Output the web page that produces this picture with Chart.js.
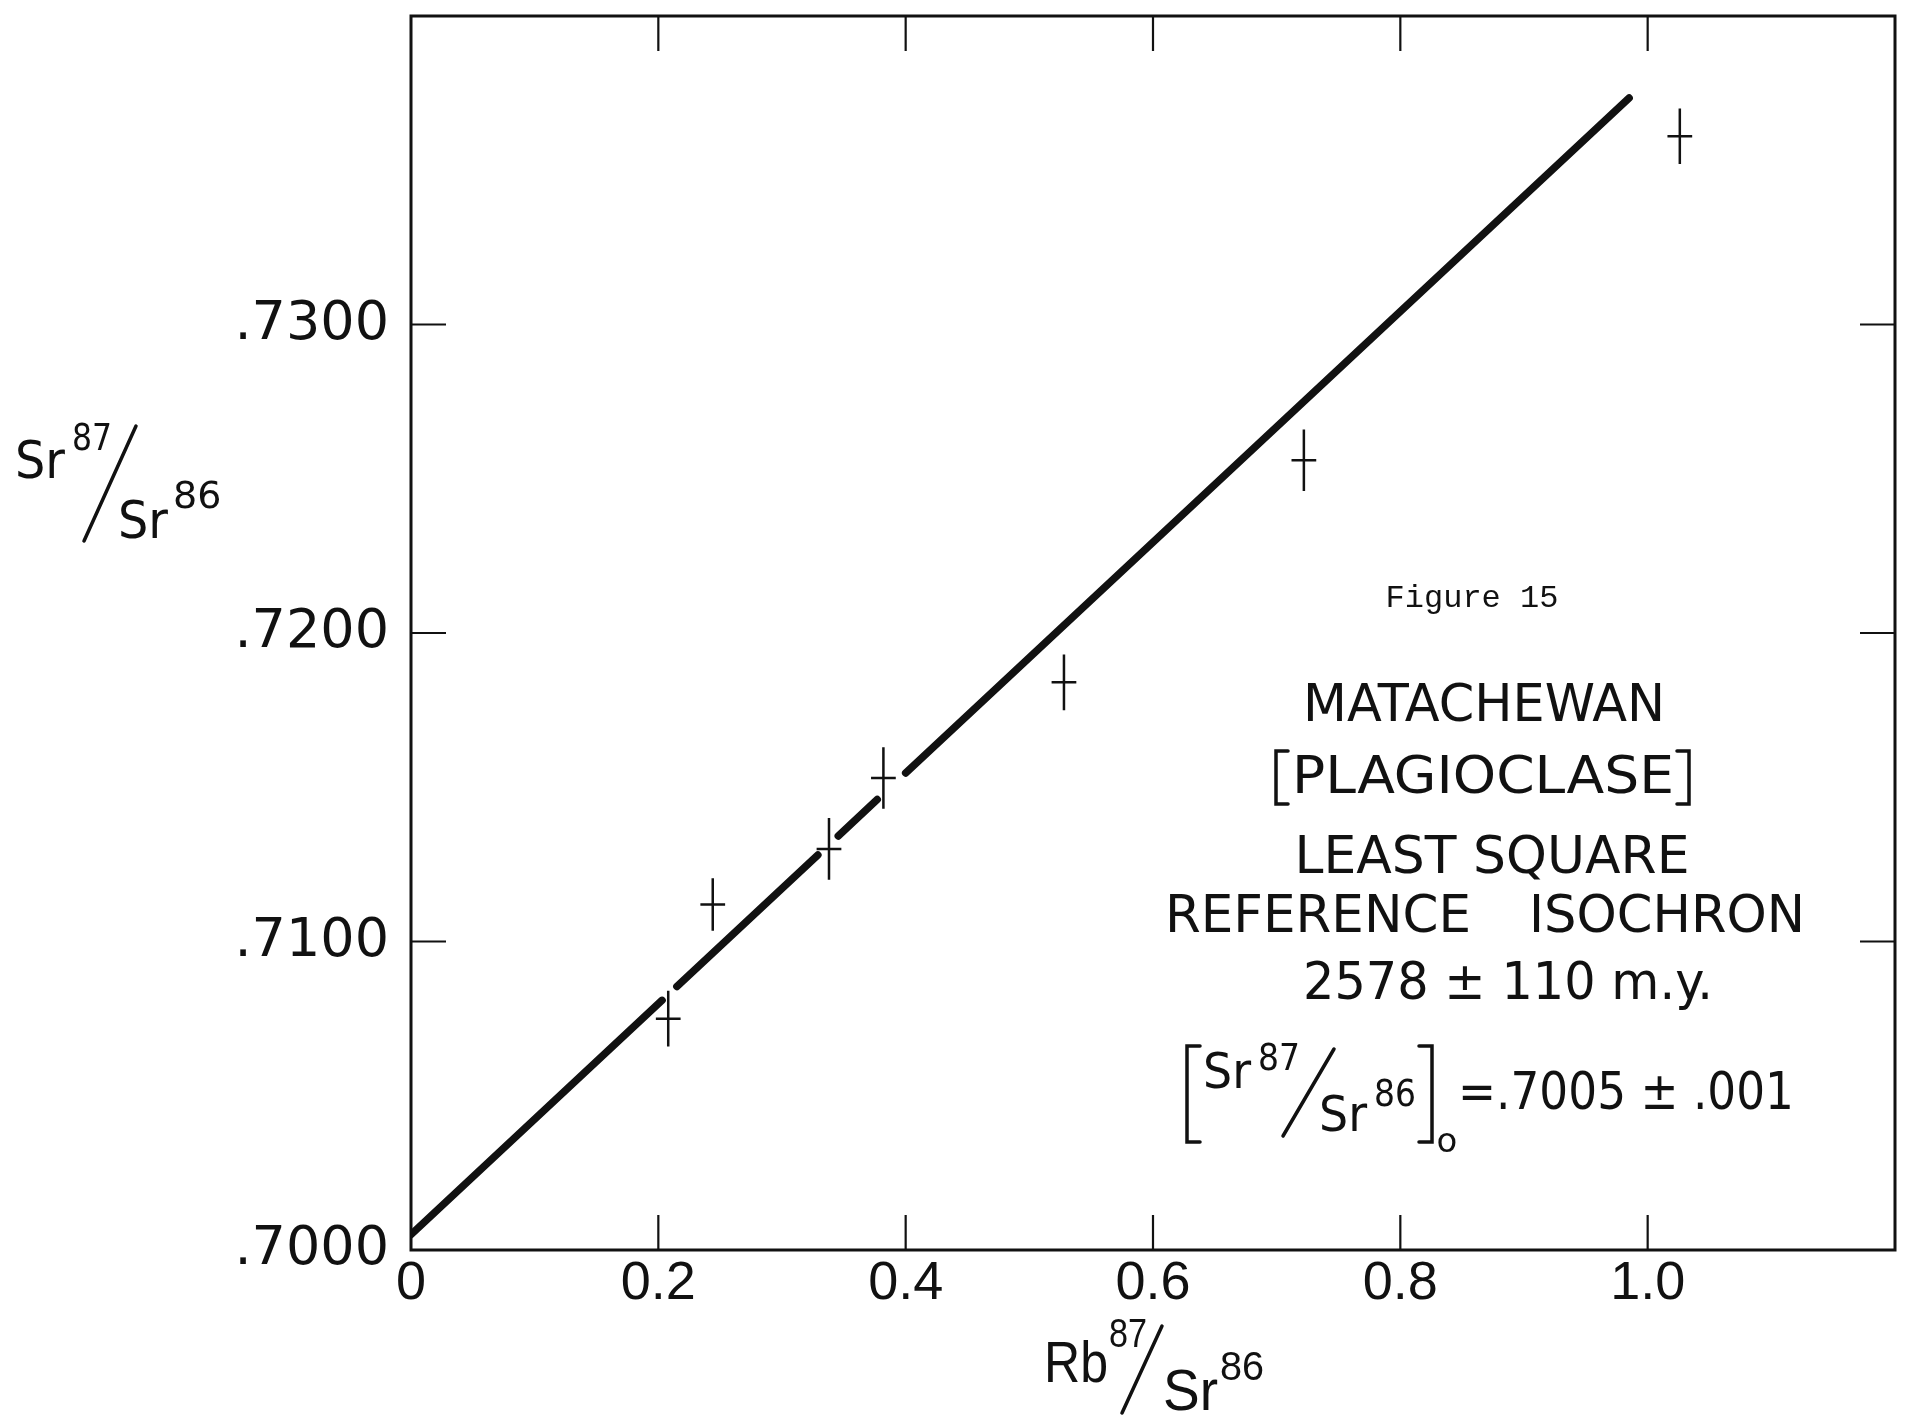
<!DOCTYPE html>
<html>
<head>
<meta charset="utf-8">
<title>Matachewan plagioclase isochron</title>
<script src="https://cdn.jsdelivr.net/npm/chart.js@4.4.1/dist/chart.umd.min.js"></script>
<style>
  html, body { margin: 0; padding: 0; background: #fff; }
  #wrap { width: 1906px; height: 1418px; }
</style>
</head>
<body>
<div id="wrap"><canvas id="chart"></canvas></div>
<script>
// Rb87/Sr86 vs Sr87/Sr86 for the plagioclase samples
const rbSr = [0.208, 0.244, 0.338, 0.382, 0.528, 0.722, 1.026];
const srSr = [0.7075, 0.7112, 0.7130, 0.7153, 0.7184, 0.7256, 0.7361];
// error bar half widths
const rbErr = [0.010, 0.010, 0.010, 0.010, 0.010, 0.010, 0.010];
const srErr = [0.0009, 0.00085, 0.001, 0.001, 0.0009, 0.001, 0.0009];

// least square reference isochron, drawn in runs broken around the crosses
const isochronIntercept = 0.7005;
const isochronSlope = 0.0374;
const isochronRuns = [[0, 0.203], [0.215, 0.329], [0.3455, 0.377], [0.400, 0.985]];

const xTickLabels = ['0', '0.2', '0.4', '0.6', '0.8', '1.0'];
const yTickLabels = ['.7000', '.7100', '.7200', '.7300'];

const ink = '#111';
const lettering = '"DejaVu Sans"';
const narrow = '"Liberation Sans"';

const isochronAt = x => isochronIntercept + isochronSlope * x;

const isochronPoints = [];
isochronRuns.forEach(([a, b]) => {
  isochronPoints.push({ x: a, y: isochronAt(a) }, { x: b, y: isochronAt(b) }, { x: b, y: null });
});

const errorBarPoints = [];
rbSr.forEach((x, i) => {
  const y = srSr[i];
  errorBarPoints.push(
    { x: x - rbErr[i], y }, { x: x + rbErr[i], y }, { x, y: null },
    { x, y: y - srErr[i] }, { x, y: y + srErr[i] }, { x, y: null }
  );
});

function put(ctx, str, x, y, font, align, maxWidth) {
  ctx.font = font;
  ctx.textAlign = align || 'left';
  ctx.textBaseline = 'alphabetic';
  if (maxWidth) ctx.fillText(str, x, y, maxWidth);
  else ctx.fillText(str, x, y);
}

// centred text stretched or squeezed to an exact width
function putWide(ctx, str, cx, y, font, width) {
  ctx.font = font;
  ctx.textAlign = 'center';
  ctx.textBaseline = 'alphabetic';
  const k = width / ctx.measureText(str).width;
  ctx.save();
  ctx.translate(cx, y);
  ctx.scale(k, 1);
  ctx.fillText(str, 0, 0);
  ctx.restore();
}

function stroke(ctx, pts, width) {
  ctx.lineWidth = width;
  ctx.beginPath();
  ctx.moveTo(pts[0][0], pts[0][1]);
  pts.slice(1).forEach(p => ctx.lineTo(p[0], p[1]));
  ctx.stroke();
}

// the labels are placed by hand, so keep the scales from reserving room for them
function noEdgePadding(scale) {
  scale.paddingTop = 0;
  scale.paddingBottom = 0;
  scale.paddingLeft = 0;
  scale.paddingRight = 0;
}

// box around the plot with short ticks pointing inwards on all four sides
const frameTicks = {
  id: 'frameTicks',
  afterDatasetsDraw(chart) {
    const { ctx, chartArea: a, scales: { x, y } } = chart;
    ctx.save();
    ctx.strokeStyle = ink;
    ctx.lineWidth = 3;
    ctx.strokeRect(a.left, a.top, a.right - a.left, a.bottom - a.top);
    ctx.lineWidth = 2.2;
    ctx.beginPath();
    x.ticks.forEach(t => {
      if (t.value <= x.min + 1e-9 || t.value >= x.max - 1e-9) return;
      const px = x.getPixelForValue(t.value);
      ctx.moveTo(px, a.bottom); ctx.lineTo(px, a.bottom - 35);
      ctx.moveTo(px, a.top); ctx.lineTo(px, a.top + 35);
    });
    y.ticks.forEach(t => {
      if (t.value <= y.min + 1e-9 || t.value >= y.max - 1e-9) return;
      const py = y.getPixelForValue(t.value);
      ctx.moveTo(a.left, py); ctx.lineTo(a.left + 35, py);
      ctx.moveTo(a.right, py); ctx.lineTo(a.right - 35, py);
    });
    ctx.stroke();
    ctx.restore();
  }
};

// axis titles and the caption block
const captions = {
  id: 'captions',
  afterDraw(chart) {
    const ctx = chart.ctx;
    ctx.save();
    ctx.fillStyle = ink;
    ctx.strokeStyle = ink;
    ctx.lineCap = 'round';

    // Sr87/Sr86 on the left
    put(ctx, 'Sr', 15, 478, `52px ${lettering}`, 'left', 50);
    put(ctx, '87', 72, 450, `38px ${lettering}`, 'left', 40);
    stroke(ctx, [[84, 541], [136, 426]], 3.5);
    put(ctx, 'Sr', 118, 538, `52px ${lettering}`, 'left', 50);
    put(ctx, '86', 173, 508, `38px ${lettering}`, 'left', 49);

    // Rb87/Sr86 under the x axis
    put(ctx, 'Rb', 1044, 1382, `58px ${narrow}`, 'left', 64);
    put(ctx, '87', 1109, 1347, `40px ${narrow}`, 'left', 38);
    stroke(ctx, [[1122, 1413], [1162, 1326]], 3.5);
    put(ctx, 'Sr', 1163, 1410, `58px ${narrow}`, 'left', 55);
    put(ctx, '86', 1220, 1380, `40px ${narrow}`, 'left', 44);

    put(ctx, 'Figure 15', 1472, 607, '32px "Liberation Mono"', 'center');

    const big = `52px ${lettering}`;
    put(ctx, 'MATACHEWAN', 1484, 721, big, 'center', 362);
    stroke(ctx, [[1288, 751], [1276, 751], [1276, 804], [1288, 804]], 3.5);
    putWide(ctx, 'PLAGIOCLASE', 1483, 793, big, 382);
    stroke(ctx, [[1677, 751], [1689, 751], [1689, 804], [1677, 804]], 3.5);
    put(ctx, 'LEAST SQUARE', 1492, 873, big, 'center', 395);
    put(ctx, 'REFERENCE', 1318, 932, big, 'center', 306);
    put(ctx, 'ISOCHRON', 1667, 932, big, 'center', 276);
    put(ctx, '2578 ± 110 m.y.', 1508, 999, big, 'center', 410);

    // [Sr87/Sr86]o = .7005 ± .001
    stroke(ctx, [[1200, 1046], [1187, 1046], [1187, 1142], [1200, 1142]], 3.5);
    put(ctx, 'Sr', 1203, 1088, `50px ${lettering}`, 'left', 48);
    put(ctx, '87', 1258, 1070, `38px ${lettering}`, 'left', 42);
    stroke(ctx, [[1283, 1136], [1334, 1049]], 3.5);
    put(ctx, 'Sr', 1319, 1131, `50px ${lettering}`, 'left', 48);
    put(ctx, '86', 1374, 1106, `38px ${lettering}`, 'left', 42);
    stroke(ctx, [[1419, 1046], [1432, 1046], [1432, 1142], [1419, 1142]], 3.5);
    put(ctx, 'o', 1447, 1152, `34px ${lettering}`, 'center');
    put(ctx, '=.7005 ± .001', 1458, 1109, `52px ${lettering}`, 'left', 336);

    ctx.restore();
  }
};

new Chart(document.getElementById('chart'), {
  type: 'scatter',
  data: {
    datasets: [
      {
        data: isochronPoints,
        showLine: true,
        borderColor: ink,
        borderWidth: 7.5,
        borderCapStyle: 'round',
        spanGaps: false,
        pointRadius: 0,
        pointHitRadius: 0
      },
      {
        data: errorBarPoints,
        showLine: true,
        borderColor: ink,
        borderWidth: 2.5,
        spanGaps: false,
        pointRadius: 0,
        pointHitRadius: 0
      }
    ]
  },
  options: {
    responsive: true,
    maintainAspectRatio: false,
    animation: false,
    layout: { padding: { left: 0, top: 16, right: 11, bottom: 0 } },
    plugins: {
      legend: { display: false },
      tooltip: { enabled: false }
    },
    scales: {
      x: {
        type: 'linear',
        min: 0,
        max: 1.2,
        afterFit: scale => { scale.height = 168; noEdgePadding(scale); },
        grid: { display: false, drawTicks: false },
        border: { display: false },
        ticks: {
          stepSize: 0.1,
          autoSkip: false,
          maxRotation: 0,
          padding: 2,
          color: ink,
          font: { family: 'Liberation Sans', size: 54 },
          callback: (value, index) => (index % 2 === 0 ? xTickLabels[index / 2] : null) ?? null
        }
      },
      y: {
        type: 'linear',
        min: 0.70,
        max: 0.74,
        afterFit: scale => { scale.width = 411; noEdgePadding(scale); },
        grid: { display: false, drawTicks: false },
        border: { display: false },
        ticks: {
          stepSize: 0.01,
          autoSkip: false,
          padding: 22,
          color: ink,
          font: { family: 'DejaVu Sans', size: 54 },
          callback: (value, index) => yTickLabels[index] ?? null
        }
      }
    }
  },
  plugins: [frameTicks, captions]
});
</script>
</body>
</html>
